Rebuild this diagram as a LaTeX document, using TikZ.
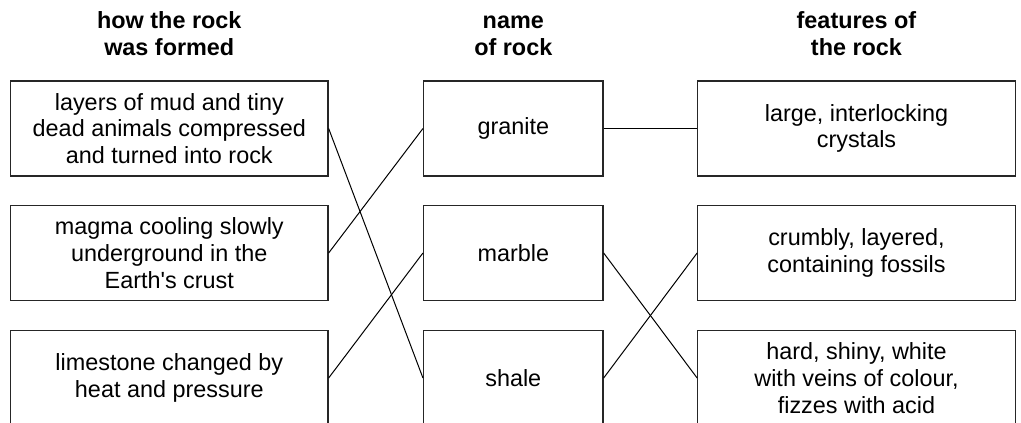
\documentclass[tikz,border=0pt]{standalone}
\usepackage{fontspec}
\setmainfont{Liberation Sans}[Ligatures=TeXOff]
\begin{document}
\begin{tikzpicture}[x=1pt,y=-1pt,
  box/.style={draw=black!85,line width=1.2pt,inner sep=0pt,align=center,
    font=\fontsize{23.4}{26.7}\selectfont},
  wbox/.style={box,minimum width=317.5pt,minimum height=95pt},
  nbox/.style={box,minimum width=179.5pt,minimum height=95pt},
  head/.style={align=center,inner sep=0pt,font=\fontsize{23.4}{27}\selectfont\bfseries},
  link/.style={draw=black,line width=1pt}]
\useasboundingbox (0,0) rectangle (1021,423);
\clip (0,0) rectangle (1021,423);
\node[head,anchor=base] (h1) at (169.3,55) {how the rock\\was formed};
\node[head,anchor=base] (h2) at (513.3,55) {name\\of rock};
\node[head,anchor=base] (h3) at (856.5,55) {features of\\the rock};

\node[wbox] (l1) at (169.3,128.5) {layers of mud and tiny\\dead animals compressed\\and turned into rock};
\node[wbox] (l2) at (169.3,253) {magma cooling slowly\\underground in the\\Earth's crust};
\node[wbox] (l3) at (169.3,378) {limestone changed by\\heat and pressure};

\node[nbox] (granite) at (513.3,128.5) {granite};
\node[nbox] (marble) at (513.3,253) {marble};
\node[nbox] (shale) at (513.3,378) {shale};

\node[wbox] (r1) at (856.5,128.5) {large, interlocking\\crystals};
\node[wbox] (r2) at (856.5,253) {crumbly, layered,\\containing fossils};
\node[wbox] (r3) at (856.5,378) {hard, shiny, white\\with veins of colour,\\fizzes with acid};

\draw[link] (l1.east) -- (shale.west);
\draw[link] (l2.east) -- (granite.west);
\draw[link] (l3.east) -- (marble.west);
\draw[link] (granite.east) -- (r1.west);
\draw[link] (marble.east) -- (r3.west);
\draw[link] (shale.east) -- (r2.west);
\end{tikzpicture}
\end{document}
